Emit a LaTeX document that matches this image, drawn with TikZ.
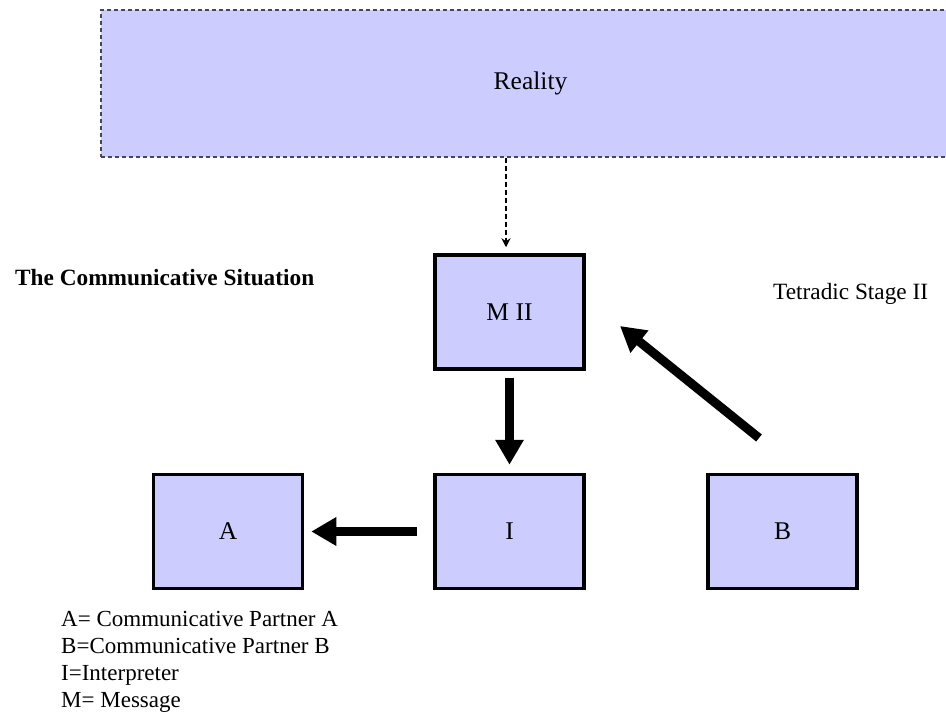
\documentclass[tikz,border=0pt]{standalone}
\usepackage{fontspec}
\setmainfont{Liberation Serif}
\usetikzlibrary{arrows.meta,calc}
\definecolor{boxfill}{RGB}{204,204,255}
\definecolor{dashgray}{RGB}{70,70,90}
\tikzset{
  box/.style={draw=black, line width=3.5pt, fill=boxfill, minimum width=149pt, minimum height=114pt, inner sep=0pt, font=\fontsize{25.5}{30}\selectfont},
  bigarrow/.style={line width=9pt, -{Triangle[width=27pt,length=25pt]}},
  lbl/.style={inner sep=0pt, anchor=base west, font=\fontsize{23.3}{27}\selectfont},
  legend/.style={inner sep=0pt, anchor=base west, font=\fontsize{23}{27}\selectfont}
}
\begin{document}
\begin{tikzpicture}[x=1pt,y=-1pt]
\useasboundingbox[fill=white] (0,0) rectangle (946,715);
\node[draw=dashgray, dashed, dash pattern=on 4pt off 3pt, line width=1.8pt, fill=boxfill, minimum width=859pt, minimum height=147pt, inner sep=0pt, font=\fontsize{25.5}{30}\selectfont] (R) at (530.5,83.5) {Reality};
\node[box] (M) at (509.5,312) {M II};
\node[box] (I) at (509.5,531.5) {I};
\node[box] (A) at (228,531.5) {A};
\node[box] (B) at (782.5,531.5) {B};
\coordinate (mtop) at ($(M.north)+(-3.5,0)$);
\draw[line width=1.5pt, dashed, dash pattern=on 5pt off 3pt, -{Stealth[width=9pt,length=9pt]}, shorten >=6pt] (mtop |- R.south) -- (mtop);
\draw[bigarrow, shorten <=7pt, shorten >=8pt] (M.south) -- (I.north);
\draw[bigarrow, shorten <=16pt, shorten >=7pt] (I.west) -- (A.east);
\coordinate (btail) at (759,438);
\coordinate (mtip) at (620,326);
\draw[bigarrow] (btail) -- (mtip);
\node[lbl, font=\fontsize{23.3}{27}\selectfont\bfseries] (title) at (15,285) {The Communicative Situation};
\node[lbl] (stage) at (773,299) {Tetradic Stage II};
\node[legend] (l1) at (61,626) {A= Communicative Partner A};
\node[legend] (l2) at (61,653) {B=Communicative Partner B};
\node[legend] (l3) at (61,680) {I=Interpreter};
\node[legend] (l4) at (61,707) {M= Message};
\end{tikzpicture}
\end{document}
